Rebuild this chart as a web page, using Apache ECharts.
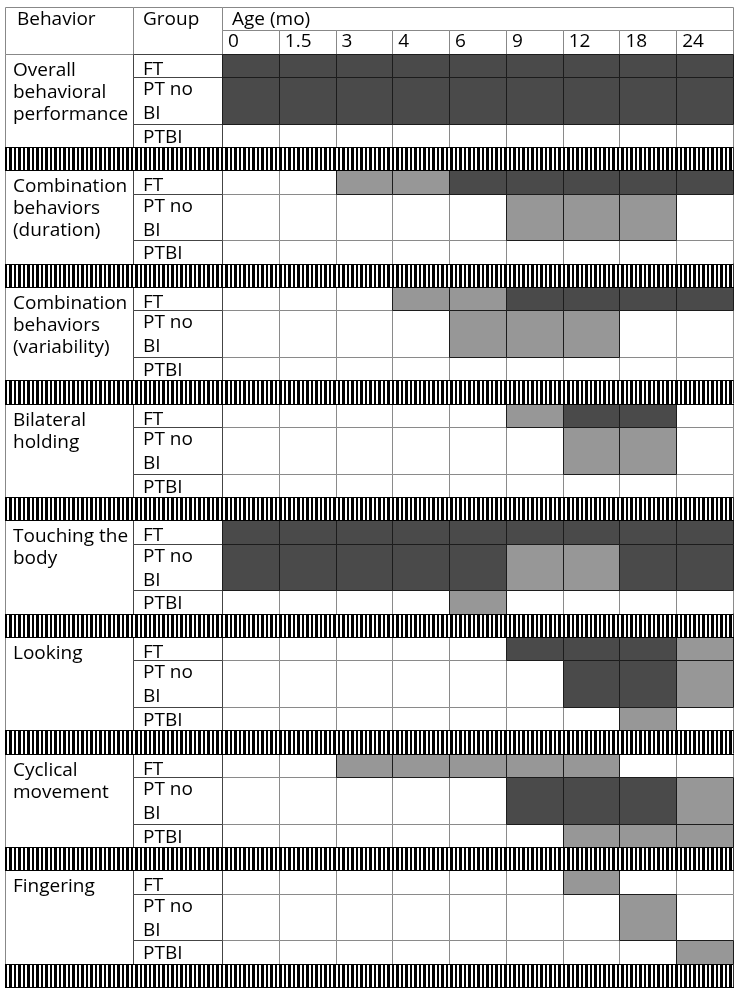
<!DOCTYPE html>
<html><head><meta charset="utf-8">
<script src="https://cdn.jsdelivr.net/npm/echarts@6/dist/echarts.min.js"></script>
<style>html,body{margin:0;padding:0;background:#fff}#c{width:739px;height:991px}</style>
</head><body><div id="c"></div>
<script>
// ---------- data ----------
const ages = ['0', '1.5', '3', '4', '6', '9', '12', '18', '24'];
const behaviors = [
  'Overall\nbehavioral\nperformance',
  'Combination\nbehaviors\n(duration)',
  'Combination\nbehaviors\n(variability)',
  'Bilateral\nholding',
  'Touching the\nbody',
  'Looking',
  'Cyclical\nmovement',
  'Fingering'
];
const groups = ['FT', 'PT no\nBI', 'PTBI'];
// 0 = no shading, 1 = light grey, 2 = dark grey ; rows: FT, PT no BI, PTBI
const overall      = [[2,2,2,2,2,2,2,2,2],[2,2,2,2,2,2,2,2,2],[0,0,0,0,0,0,0,0,0]];
const combDuration = [[0,0,1,1,2,2,2,2,2],[0,0,0,0,0,1,1,1,0],[0,0,0,0,0,0,0,0,0]];
const combVariab   = [[0,0,0,1,1,2,2,2,2],[0,0,0,0,1,1,1,0,0],[0,0,0,0,0,0,0,0,0]];
const bilateral    = [[0,0,0,0,0,1,2,2,0],[0,0,0,0,0,0,1,1,0],[0,0,0,0,0,0,0,0,0]];
const touching     = [[2,2,2,2,2,2,2,2,2],[2,2,2,2,2,1,1,2,2],[0,0,0,0,1,0,0,0,0]];
const looking      = [[0,0,0,0,0,2,2,2,1],[0,0,0,0,0,0,2,2,1],[0,0,0,0,0,0,0,1,0]];
const cyclical     = [[0,0,1,1,1,1,1,0,0],[0,0,0,0,0,2,2,2,1],[0,0,0,0,0,0,1,1,1]];
const fingering    = [[0,0,0,0,0,0,1,0,0],[0,0,0,0,0,0,0,1,0],[0,0,0,0,0,0,0,0,1]];
const matrices = [overall, combDuration, combVariab, bilateral, touching, looking, cyclical, fingering];

// ---------- layout helpers (row units) ----------
const groupStart = [0, 1, 3], groupSpan = [1, 2, 1], SECTION = 5;
function rowRange(sec, g) { const a = sec * SECTION + groupStart[g]; return [a, a + groupSpan[g]]; }

const FONT = '19px "Open Sans", "Noto Sans", sans-serif';
const K = 7.4;
const FILL = ['#ffffff', '#979797', '#4a4a4a'];
function snap(v) { return Math.round(v) + 0.5; }
function rectEl(x0, y0, x1, y1, fill, stroke, z) {
  const a = snap(x0), b = snap(y0), c = snap(x1), d = snap(y1);
  return { type: 'rect', shape: { x: a, y: b, width: c - a, height: d - b }, style: { fill: fill, stroke: stroke, lineWidth: 1 }, z2: z || 0 };
}
function lineEl(x0, y0, x1, y1, stroke, z) {
  return { type: 'line', shape: { x1: x0, y1: snap(y0), x2: x1, y2: snap(y1) }, style: { stroke: stroke, lineWidth: 1 }, z2: z || 5 };
}
function txt(x, baseline, text, lh) {
  lh = lh || 22;
  return { type: 'text', style: { x: x, y: baseline - K - lh / 2, text: text, fill: '#000', font: FONT, align: 'left', verticalAlign: 'top', lineHeight: lh }, z2: 20 };
}

// stripe pattern
const pc = document.createElement('canvas'); pc.width = 9; pc.height = 4;
const pctx = pc.getContext('2d');
pctx.fillStyle = '#fff'; pctx.fillRect(0, 0, 9, 4);
pctx.fillStyle = '#000'; pctx.fillRect(0, 0, 3, 4); pctx.fillRect(5, 0, 2, 4);
const stripeFill = { image: pc, repeat: 'repeat' };

function stripeGroup(x0, x1, yA, yB) {
  const a = snap(yA), b = snap(yB);
  return [
    { type: 'rect', shape: { x: x0, y: a, width: x1 - x0, height: b - a }, style: { fill: stripeFill }, z2: 3 },
    lineEl(x0, yA, x1, yA, '#000', 6),
    lineEl(x0, yB, x1, yB, '#000', 6)
  ];
}

// ---------- series data ----------
const secData = behaviors.map((b, i) => [i]);
const groupData = [];
behaviors.forEach((b, s) => groups.forEach((g, gi) => groupData.push([s, gi])));
const cellData = [];
matrices.forEach((m, s) => m.forEach((row, g) => row.forEach((v, c) => cellData.push([c, s, g, v]))));
const ageData = ages.map((a, i) => [i]);

function xSpanValue(api, y) { return [api.coord([0, y])[0], api.coord([1, y])[0]]; }
function xSpanCat(api, y) { const w = api.size([1, 0])[0]; return [api.coord([0, y])[0] - w / 2, api.coord([ages.length - 1, y])[0] + w / 2]; }

const series = [
  // behavior column
  { type: 'custom', xAxisIndex: 0, yAxisIndex: 0, data: secData,
    renderItem: function (p, api) {
      const s = api.value(0);
      const y0 = api.coord([0, s * SECTION])[1], y1 = api.coord([0, s * SECTION + 4])[1], y2 = api.coord([0, s * SECTION + 5])[1];
      const xs = xSpanValue(api, 0);
      const ch = [rectEl(xs[0], y0, xs[1], y1, '#fff', '#888', 1), txt(xs[0] + 8, y0 + 24, behaviors[s], 22)];
      return { type: 'group', children: ch.concat(stripeGroup(Math.round(xs[0]), Math.round(xs[1]), y1, y2)) };
    } },
  // behavior header
  { type: 'custom', xAxisIndex: 0, yAxisIndex: 0, data: [[0]],
    renderItem: function (p, api) {
      const y0 = api.coord([0, -2])[1], y1 = api.coord([0, 0])[1];
      const xs = xSpanValue(api, 0);
      return { type: 'group', children: [rectEl(xs[0], y0, xs[1], y1, '#fff', '#888', 1), txt(xs[0] + 12, y0 + 20, 'Behavior')] };
    } },
  // group column
  { type: 'custom', xAxisIndex: 1, yAxisIndex: 1, data: groupData,
    renderItem: function (p, api) {
      const s = api.value(0), g = api.value(1);
      const r = rowRange(s, g);
      const y0 = api.coord([0, r[0]])[1], y1 = api.coord([0, r[1]])[1];
      const xs = xSpanValue(api, 0);
      const base = [23, 20, 21][g];
      return { type: 'group', children: [rectEl(xs[0], y0, xs[1], y1, '#fff', '#444', 2), txt(xs[0] + 10, y0 + base, groups[g], 24)] };
    } },
  { type: 'custom', xAxisIndex: 1, yAxisIndex: 1, data: secData,
    renderItem: function (p, api) {
      const s = api.value(0);
      const y1 = api.coord([0, s * SECTION + 4])[1], y2 = api.coord([0, s * SECTION + 5])[1];
      const xs = xSpanValue(api, 0);
      return { type: 'group', children: stripeGroup(Math.round(xs[0]), Math.round(xs[1]), y1, y2) };
    } },
  // group header
  { type: 'custom', xAxisIndex: 1, yAxisIndex: 1, data: [[0]],
    renderItem: function (p, api) {
      const y0 = api.coord([0, -2])[1], y1 = api.coord([0, 0])[1];
      const xs = xSpanValue(api, 0);
      return { type: 'group', children: [rectEl(xs[0], y0, xs[1], y1, '#fff', '#888', 1), txt(xs[0] + 10, y0 + 20, 'Group')] };
    } },
  // cells
  { type: 'custom', xAxisIndex: 2, yAxisIndex: 2, data: cellData,
    renderItem: function (p, api) {
      const c = api.value(0), s = api.value(1), g = api.value(2), v = api.value(3);
      const r = rowRange(s, g);
      const w = api.size([1, 0])[0];
      const p0 = api.coord([c, r[0]]), p1 = api.coord([c, r[1]]);
      return rectEl(p0[0] - w / 2, p0[1], p0[0] + w / 2, p1[1], FILL[v], v ? '#1c1c1c' : '#8a8a8a', v + 1);
    } },
  // stripes in age area
  { type: 'custom', xAxisIndex: 2, yAxisIndex: 2, data: secData,
    renderItem: function (p, api) {
      const s = api.value(0);
      const y1 = api.coord([0, s * SECTION + 4])[1], y2 = api.coord([0, s * SECTION + 5])[1];
      const xs = xSpanCat(api, 0);
      const ch = stripeGroup(Math.round(xs[0]), Math.round(xs[1]) + 1, y1, y2);
      ch.push({ type: 'line', shape: { x1: snap(xs[1]), y1: y1, x2: snap(xs[1]), y2: y2 }, style: { stroke: '#333', lineWidth: 1 }, z2: 7 });
      return { type: 'group', children: ch };
    } },
  // age header
  { type: 'custom', xAxisIndex: 2, yAxisIndex: 2, data: ageData,
    renderItem: function (p, api) {
      const c = api.value(0);
      const w = api.size([1, 0])[0];
      const pA = api.coord([c, -1]), pB = api.coord([c, 0]);
      const ch = [rectEl(pA[0] - w / 2, pA[1], pA[0] + w / 2, pB[1], '#fff', '#888', 1), txt(pA[0] - w / 2 + 6, pA[1] + 19, ages[c])];
      if (c === 0) {
        const xs = xSpanCat(api, 0);
        const t = api.coord([0, -2])[1];
        ch.push(rectEl(xs[0], t, xs[1], pA[1], '#fff', '#888', 1));
        ch.push(txt(xs[0] + 10, t + 20, 'Age (mo)'));
      }
      return { type: 'group', children: ch };
    } }
];

const chart = echarts.init(document.getElementById('c'), null, { renderer: 'canvas' });
const yAx = i => ({ gridIndex: i, type: 'value', min: -2, max: 40, inverse: true, show: false });
chart.setOption({
  animation: false,
  backgroundColor: '#fff',
  grid: [
    { left: 5, top: 7, width: 128, bottom: 4 },
    { left: 133, top: 7, width: 89, bottom: 4 },
    { left: 222, top: 7, right: 6, bottom: 4 }
  ],
  xAxis: [
    { gridIndex: 0, type: 'value', min: 0, max: 1, show: false },
    { gridIndex: 1, type: 'value', min: 0, max: 1, show: false },
    { gridIndex: 2, type: 'category', data: ages, show: false }
  ],
  yAxis: [yAx(0), yAx(1), yAx(2)],
  series: series
});
</script>
</body></html>
